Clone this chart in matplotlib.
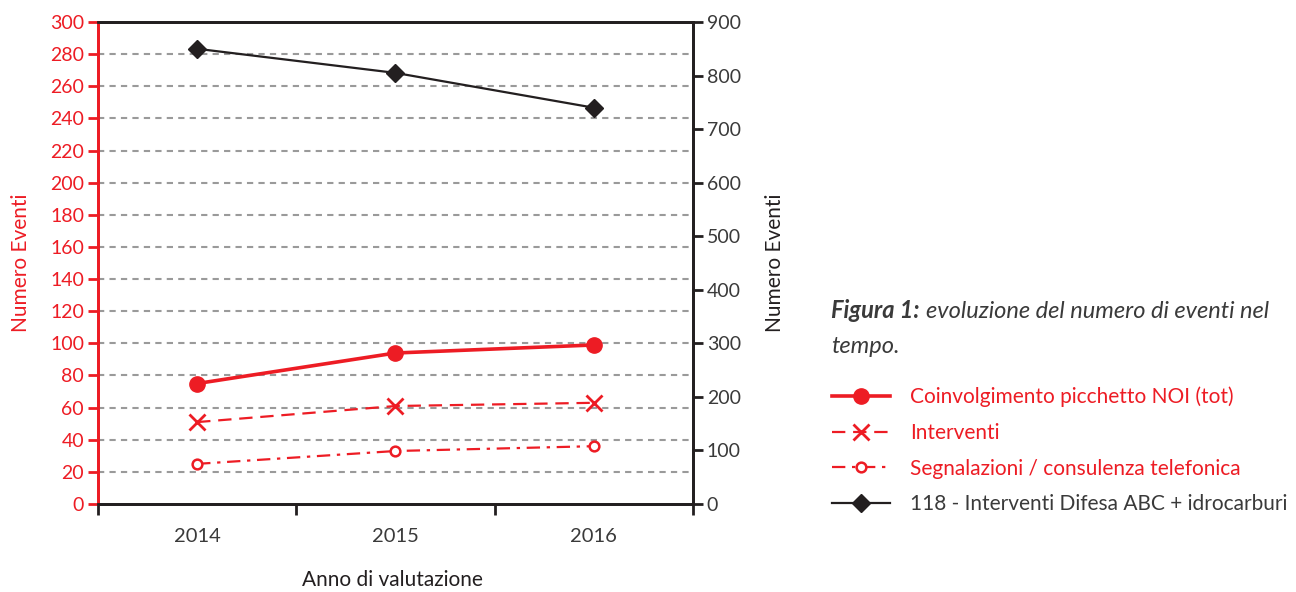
import numpy as np
import matplotlib.pyplot as plt

plt.rcParams['font.family'] = ['Lato', 'DejaVu Sans']

RED = '#ed1c24'
BLACK = '#231f20'
GREY_TXT = '#3a3a3a'

anni = ['2014', '2015', '2016']
coinvolgimento = [75, 94, 99]
interventi = [51, 61, 63]
segnalazioni = [25, 33, 36]
interventi_118 = [850, 805, 740]

fig = plt.figure(figsize=(12.96, 5.92), dpi=100)
ax = fig.add_axes([0.0756, 0.1486, 0.4591, 0.8142])
ax2 = ax.twinx()

x = np.arange(len(anni))

# left axis: red series
ax.plot(x, coinvolgimento, color=RED, lw=2.6, marker='o', ms=11,
        label='Coinvolgimento picchetto NOI (tot)', zorder=4)
ax.plot(x, interventi, color=RED, lw=1.6, ls=(0, (6, 3.5)), marker='x', ms=12,
        mew=2, label='Interventi', zorder=4)
ax.plot(x, segnalazioni, color=RED, lw=1.6, ls=(0, (6, 3, 1.5, 3)), marker='o',
        ms=7, mfc='white', mew=1.8, label='Segnalazioni / consulenza telefonica',
        zorder=4)

# right axis: black series
ax2.plot(x, interventi_118, color=BLACK, lw=1.6, marker='D', ms=9,
         label='118 - Interventi Difesa ABC + idrocarburi')

ax.set_xlim(-0.5, 2.5)
ax.set_ylim(0, 300)
ax2.set_ylim(0, 900)
ax.set_yticks(np.arange(0, 301, 20))
ax2.set_yticks(np.arange(0, 901, 100))

for yv in np.arange(20, 300, 20):
    ax.axhline(yv, color='#9a9a9a', lw=1.5, ls=(0, (3, 2.5)), zorder=1)

# category labels centred, tick marks on the boundaries
ax.set_xticks(np.arange(-0.5, 2.6, 1.0))
ax.set_xticklabels([])
ax.set_xticks(x, minor=True)
ax.set_xticklabels(anni, minor=True)
ax.tick_params(axis='x', which='major', direction='out', length=8, width=2,
               color=BLACK)
ax.tick_params(axis='x', which='minor', length=0, pad=17, labelsize=14.5,
               labelcolor=GREY_TXT)

ax.tick_params(axis='y', direction='out', length=7, width=2, color=RED,
               labelcolor=RED, labelsize=14, pad=3)
ax2.tick_params(axis='y', direction='out', length=7, width=2, color=BLACK,
                labelcolor=GREY_TXT, labelsize=14, pad=3)

for a in (ax, ax2):
    for side in ('top', 'bottom', 'right', 'left'):
        a.spines[side].set_linewidth(2)
        a.spines[side].set_color(BLACK)
ax.spines['left'].set_color(RED)
ax2.spines['left'].set_color(RED)

ax.set_ylabel('Numero Eventi', color=RED, fontsize=15, labelpad=14)
ax2.set_ylabel('Numero Eventi', color=BLACK, fontsize=15, labelpad=17)
fig.text(0.3025, 0.02, 'Anno di valutazione', color=BLACK, fontsize=15,
         ha='center', va='center')

# caption
cap = fig.text(0.641, 0.462, 'Figura 1:', fontsize=17, style='italic',
               weight='bold', color=GREY_TXT)
fig.canvas.draw()
bb = cap.get_window_extent()
x1 = bb.x1 / fig.bbox.width
fig.text(x1 + 0.005, 0.462, 'evoluzione del numero di eventi nel',
         fontsize=17, style='italic', color=GREY_TXT)
fig.text(0.641, 0.404, 'tempo.', fontsize=17, style='italic', color=GREY_TXT)

handles = ax.get_lines()[:3] + ax2.get_lines()
leg = fig.legend(handles=handles, loc='upper left',
                 bbox_to_anchor=(0.629, 0.375), frameon=False, fontsize=15,
                 handlelength=2.8, handletextpad=0.95, labelspacing=0.75,
                 borderpad=0.3, labelcolor=[RED, RED, RED, GREY_TXT])

fig.savefig('out.png', dpi=100)
